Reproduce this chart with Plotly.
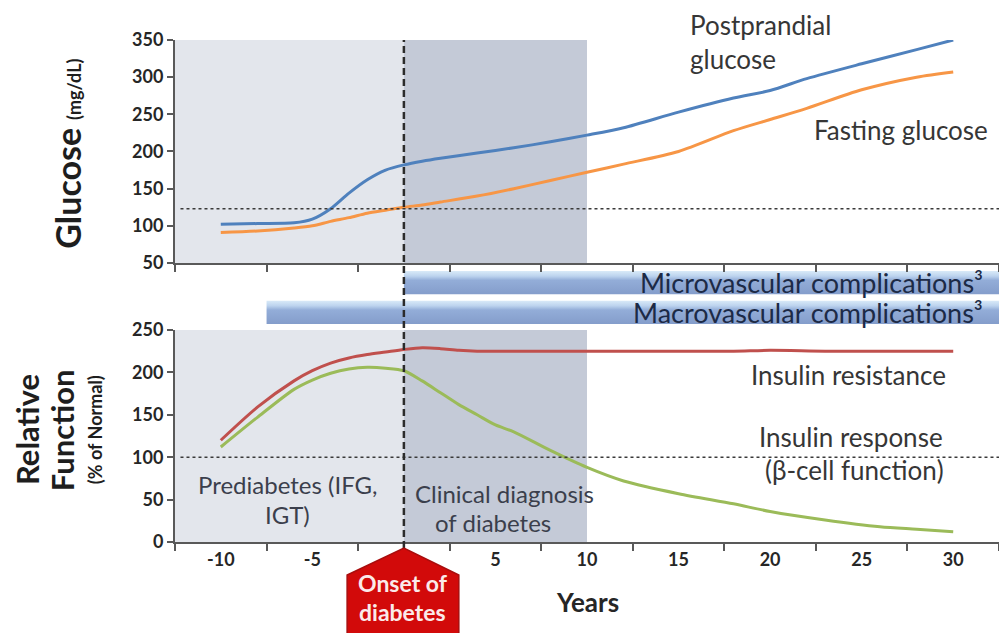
import plotly.graph_objects as go

# Glucose panel (mg/dL)
years_glucose = [-10, -8, -6, -5, -4, -3, -2, -1, 0, 1, 2, 4, 6, 8, 10, 12, 15, 18, 20, 22, 25, 28, 30]
postprandial = [102, 103, 104, 109, 123, 144, 162, 175, 182, 187, 191, 198, 205, 213, 222, 232, 253, 272, 282, 298, 318, 337, 350]
fasting = [91, 93, 97, 100, 106, 111, 117, 121, 125, 128, 132, 140, 150, 161, 172, 183, 200, 228, 243, 258, 283, 300, 307]

# Relative function panel (% of normal)
years_function = [-10, -8, -6, -5, -4, -3, -2, -1, 0, 1, 2, 3, 4, 5, 6, 8, 10, 12, 15, 18, 20, 23, 26, 28, 30]
insulin_resistance = [120, 159, 190, 202, 211, 217, 221, 224, 227, 229, 228, 226, 225, 225, 225, 225, 225, 225, 225, 225, 226, 225, 225, 225, 225]
insulin_response = [112, 147, 180, 191, 199, 204, 206, 205, 202, 190, 176, 162, 150, 138, 130, 108, 88, 72, 57, 45, 36, 26, 18, 15, 12]

# Complications timeline bars
complication_names = ["Microvascular complications³", "Macrovascular complications³"]
complication_start = [0, -7.5]
complication_end = [32.5, 32.5]

# Thresholds and ticks
glucose_threshold = 123
function_normal = 100
tick_years = [-10, -5, 5, 10, 15, 20, 25, 30]
tick_labels = ["-10", "-5", "5", "10", "15", "20", "25", "30"]

FONT = "Lato"
AXIS_COLOR = "#595959"
TEXT_COLOR = "#363636"
PHASE_TEXT = "#3b3f4c"

fig = go.Figure()

# Glucose lines
fig.add_trace(go.Scatter(x=years_glucose, y=postprandial, mode="lines", xaxis="x2", yaxis="y2",
                         line=dict(color="#4f81bd", width=3, shape="spline", smoothing=0.8)))
fig.add_trace(go.Scatter(x=years_glucose, y=fasting, mode="lines", xaxis="x2", yaxis="y2",
                         line=dict(color="#f79646", width=3, shape="spline", smoothing=0.8)))

# Relative function lines
fig.add_trace(go.Scatter(x=years_function, y=insulin_resistance, mode="lines", xaxis="x", yaxis="y",
                         line=dict(color="#c0504d", width=3, shape="spline", smoothing=0.8)))
fig.add_trace(go.Scatter(x=years_function, y=insulin_response, mode="lines", xaxis="x", yaxis="y",
                         line=dict(color="#9bbb59", width=3, shape="spline", smoothing=0.8)))

# Complication bars (micro on top, macro below)
for i, name in enumerate(complication_names):
    row = len(complication_names) - 1 - i
    lo, hi = row * 1.12, row * 1.12 + 0.88
    s, e = complication_start[i], complication_end[i]
    fig.add_trace(go.Scatter(
        x=[s, e, e, s, s], y=[lo, lo, hi, hi, lo], xaxis="x", yaxis="y3",
        mode="lines", line=dict(width=0), fill="toself",
        fillgradient=dict(type="vertical",
                          colorscale=[[0, "#849dcb"], [0.6, "#93add8"], [0.78, "#bcd3ee"], [1, "#d9eaf8"]]),
        hoverinfo="skip"))
    fig.add_annotation(x=31.74, y=(lo + hi) / 2, xref="x", yref="y3", text=name, showarrow=False,
                       xanchor="right", yanchor="middle", font=dict(family=FONT, size=27, color="#1c2a46"))

# Shaded phases
shapes = []
for yref in ["y domain", "y2 domain"]:
    shapes.append(dict(type="rect", xref="x", yref=yref, x0=-12.5, x1=0, y0=0, y1=1,
                       fillcolor="#e3e6ec", line=dict(width=0), layer="below"))
    shapes.append(dict(type="rect", xref="x", yref=yref, x0=0, x1=10, y0=0, y1=1,
                       fillcolor="#c4cad7", line=dict(width=0), layer="below"))

# Dotted threshold lines
shapes.append(dict(type="line", xref="x", yref="y2", x0=-12.2, x1=32.5, y0=glucose_threshold, y1=glucose_threshold,
                   line=dict(color="#3a3a3a", width=1.6, dash="dot")))
shapes.append(dict(type="line", xref="x", yref="y", x0=-12.2, x1=32.5, y0=function_normal, y1=function_normal,
                   line=dict(color="#3a3a3a", width=1.6, dash="dot")))

# Onset dashed line
shapes.append(dict(type="line", xref="x", yref="paper", x0=0, x1=0, y0=-0.012, y1=1,
                   line=dict(color="#2b2b2b", width=2.5, dash="7px,4px")))

# Onset arrow
shapes.append(dict(type="path", xref="x", yref="paper",
                   path="M -3.1,-0.185 L -3.1,-0.0657 L 0,-0.012 L 3.0,-0.0657 L 3.0,-0.185 Z",
                   fillcolor="#d20a0a", line=dict(color="#a80d0d", width=1.5)))

fig.update_layout(shapes=shapes)


def note(text, x, y, anchor="center", size=26, color=TEXT_COLOR, bold=False):
    fig.add_annotation(x=x, y=y, xref="x", yref="paper", text=text, showarrow=False,
                       xanchor=anchor, yanchor="middle",
                       font=dict(family=FONT, size=size, color=color, weight="bold" if bold else "normal"))


note("Postprandial", 15.52, 1.03, anchor="left")
note("glucose", 15.52, 0.962, anchor="left")
note("Fasting glucose", 22.29, 0.8207, anchor="left")
note("Insulin resistance", 29.72, 0.3327, anchor="right")
note("Insulin response", 29.55, 0.209, anchor="right")
note("(β-cell function)", 29.6, 0.1434, anchor="right")
note("Prediabetes (IFG,", -6.33, 0.1155, size=24, color=PHASE_TEXT)
note("IGT)", -6.33, 0.0538, size=24, color=PHASE_TEXT)
note("Clinical diagnosis", 5.52, 0.0976, size=24, color=PHASE_TEXT)
note("of diabetes", 4.87, 0.0398, size=24, color=PHASE_TEXT)
note("Onset of", -0.05, -0.0817, size=23, color="#fbeaea", bold=True)
note("diabetes", -0.05, -0.139, size=23, color="#fbeaea", bold=True)
note("Years", 10.0, -0.1195, size=26, color="#262626", bold=True)

# Y axis titles
title_font = dict(family=FONT, size=31, color="#1e1e1e")
fig.add_annotation(x=-0.13, y=0.773, xref="paper", yref="paper", showarrow=False, textangle=-90,
                   xanchor="center", yanchor="middle",
                   text="<b><span style='font-size:34px'>Glucose</span></b> <b><span style='font-size:18px'>(mg/dL)</span></b>",
                   font=title_font)
fig.add_annotation(x=-0.1796, y=0.223, xref="paper", yref="paper", showarrow=False, textangle=-90,
                   xanchor="center", yanchor="middle", text="<b>Relative</b>", font=title_font)
fig.add_annotation(x=-0.137, y=0.223, xref="paper", yref="paper", showarrow=False, textangle=-90,
                   xanchor="center", yanchor="middle", text="<b>Function</b>", font=title_font)
fig.add_annotation(x=-0.097, y=0.223, xref="paper", yref="paper", showarrow=False, textangle=-90,
                   xanchor="center", yanchor="middle", text="<b>(% of Normal)</b>",
                   font=dict(family=FONT, size=18, color="#1e1e1e"))

tickfont = dict(family=FONT, size=18, color="#262626", weight="bold")
minor_ticks = dict(tick0=-12.5, dtick=5, ticks="outside", ticklen=7, tickwidth=2, tickcolor=AXIS_COLOR, showgrid=False)
yaxis_style = dict(showline=True, linecolor=AXIS_COLOR, linewidth=2, ticks="outside", ticklen=6, tickwidth=2,
                   tickcolor=AXIS_COLOR, showgrid=False, zeroline=False, tickfont=tickfont)

fig.update_layout(
    width=999, height=633,
    margin=dict(l=175, r=0, t=40, b=91),
    plot_bgcolor="white", paper_bgcolor="white",
    showlegend=False,
    xaxis=dict(domain=[0, 1], anchor="y", range=[-12.5, 32.5], tickvals=tick_years, ticktext=tick_labels, ticks="",
               showline=True, linecolor=AXIS_COLOR, linewidth=2, showgrid=False, zeroline=False,
               tickfont=tickfont, minor=minor_ticks),
    xaxis2=dict(domain=[0, 1], anchor="y2", matches="x", range=[-12.5, 32.5], showticklabels=False,
                ticks="", showline=True, linecolor=AXIS_COLOR, linewidth=2, showgrid=False, zeroline=False,
                minor=minor_ticks),
    yaxis=dict(domain=[0, 0.4223], range=[0, 250], tickvals=[0, 50, 100, 150, 200, 250], **yaxis_style),
    yaxis2=dict(domain=[0.5558, 1], range=[50, 350], tickvals=[50, 100, 150, 200, 250, 300, 350], **yaxis_style),
    yaxis3=dict(domain=[0.4343, 0.5398], range=[0, 2], anchor="x", visible=False),
)

fig.write_html("out.html", config={"displayModeBar": False},
               post_script="document.body.style.margin='0';")
